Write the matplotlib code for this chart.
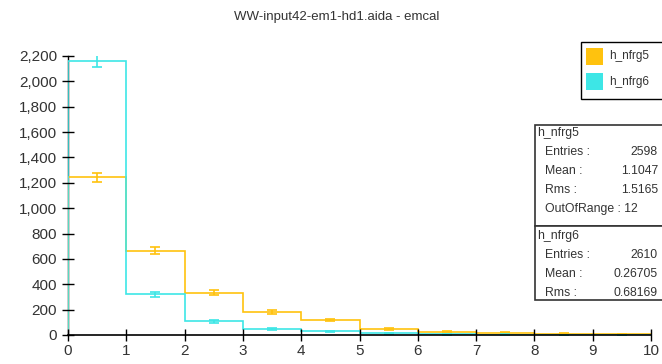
import numpy as np
import matplotlib.pyplot as plt
from matplotlib.patches import Rectangle
from matplotlib.ticker import FuncFormatter

plt.rcParams['font.family'] = ['Liberation Sans', 'DejaVu Sans']

edges = np.arange(0, 11)
nfrg5 = [1245, 665, 335, 180, 118, 50, 25, 18, 10, 5]
nfrg6 = [2160, 320, 108, 45, 30, 12, 6, 3, 2, 1]

stats5 = [("Entries :", "2598"), ("Mean :", "1.1047"), ("Rms :", "1.5165")]
stats6 = [("Entries :", "2610"), ("Mean :", "0.26705"), ("Rms :", "0.68169")]

orange = '#FFC20E'
cyan = '#3DE6E6'
txt = '#333333'

W, H = 662, 364
fig = plt.figure(figsize=(W / 100, H / 100), dpi=100)
ax = fig.add_axes([68 / W, (H - 335) / H, (651 - 68) / W, (335 - 56) / H])


def px(x, y):
    return x / W, (H - y) / H


centers = edges[:-1] + 0.5
for vals, col in [(nfrg5, orange), (nfrg6, cyan)]:
    vals = np.array(vals, dtype=float)
    ax.stairs(vals, edges, baseline=0, color=col, lw=1.2)
    ax.errorbar(centers, vals, yerr=np.sqrt(vals), fmt='none', ecolor=col,
                elinewidth=1.2, capsize=3.5, capthick=1.2)

ax.set_xlim(0, 10)
ax.set_ylim(0, 2200)
ax.set_xticks(range(0, 11))
ax.set_yticks(range(0, 2201, 200))
ax.yaxis.set_major_formatter(FuncFormatter(lambda v, p: f"{int(v):,}"))
ax.tick_params(direction='inout', length=9, width=1, labelsize=11,
               color='black', labelcolor=txt)
ax.tick_params(axis='x', pad=2)
for s in ['top', 'right']:
    ax.spines[s].set_visible(False)
ax.spines['bottom'].set_linewidth(1.2)
ax.spines['left'].set_linewidth(1.0)
ax.spines['left'].set_zorder(0)

fig.text(*px(337, 17), "WW-input42-em1-hd1.aida - emcal", ha='center', va='center',
         fontsize=9.5, color=txt)

# legend box
fig.patches.append(Rectangle(px(581, 99), (W - 581 + 5) / W, 57 / H,
                             transform=fig.transFigure, fc='white', ec='black', lw=1))
for i, (name, col) in enumerate([("h_nfrg5", orange), ("h_nfrg6", cyan)]):
    y0 = 65 + i * 25
    fig.patches.append(Rectangle(px(586, y0), 17 / W, 17 / H,
                                 transform=fig.transFigure, fc=col, ec='none'))
    fig.text(*px(609, y0 - 8.5), name, va='center', fontsize=8.5, color=txt)

# statistics boxes
fig.patches.append(Rectangle(px(535, 226), (W - 535 + 5) / W, 101 / H,
                             transform=fig.transFigure, fc='white', ec='#333333', lw=1.2))
fig.patches.append(Rectangle(px(535, 300), (W - 535 + 5) / W, 74 / H,
                             transform=fig.transFigure, fc='white', ec='#333333', lw=1.2))

fs = 8.8
fig.text(*px(537, 133), "h_nfrg5", va='center', fontsize=fs, color=txt)
for i, (k, v) in enumerate(stats5):
    y = 152 + 19 * i
    fig.text(*px(545, y), k, va='center', fontsize=fs, color=txt)
    fig.text(*px(658, y), v, va='center', ha='right', fontsize=fs, color=txt)
fig.text(*px(545, 209), "OutOfRange : 12", va='center', fontsize=fs, color=txt)

fig.text(*px(537, 236), "h_nfrg6", va='center', fontsize=fs, color=txt)
for i, (k, v) in enumerate(stats6):
    y = 255 + 19 * i
    fig.text(*px(545, y), k, va='center', fontsize=fs, color=txt)
    fig.text(*px(658, y), v, va='center', ha='right', fontsize=fs, color=txt)

fig.savefig("out.png", dpi=100)
